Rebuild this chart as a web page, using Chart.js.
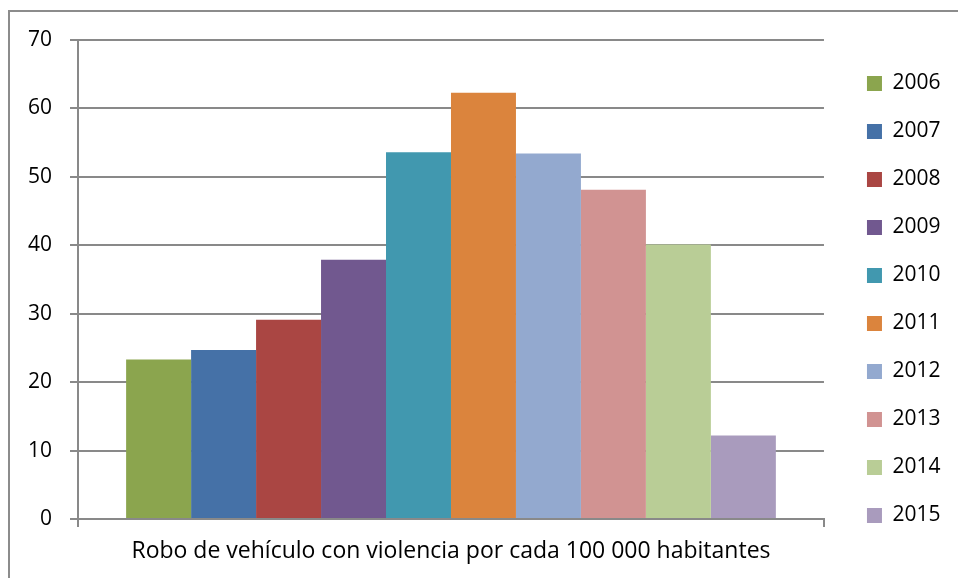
<!DOCTYPE html>
<html>
<head>
<meta charset="utf-8">
<title>Robo de vehículo con violencia</title>
<script src="https://cdn.jsdelivr.net/npm/chart.js@4.4.1/dist/chart.umd.min.js"></script>
<style>
  html, body { margin: 0; padding: 0; background: #ffffff; }
  #contenedor { width: 958px; height: 578px; }
</style>
</head>
<body>
<div id="contenedor">
  <canvas id="graficoRobos" width="958" height="578"></canvas>
</div>
<script>
// datos de la gráfica
let categorias = ['Robo de vehículo con violencia por cada 100 000 habitantes'];
let anios = ['2006', '2007', '2008', '2009', '2010', '2011', '2012', '2013', '2014', '2015'];
let tasas = [23.3, 24.7, 29.1, 37.9, 53.6, 62.3, 53.4, 48.1, 40.1, 12.2];
let colores = ['#8ba54e', '#4571a7', '#aa4643', '#71588f', '#4198af',
               '#db843d', '#93a9cf', '#d19392', '#b9cd96', '#a99bbd'];

let grisEjes = '#898989';

Chart.defaults.font.family = "'Open Sans'";
Chart.defaults.font.size = 21;
Chart.defaults.color = '#000000';

// marco gris del área del gráfico (solo se ven el borde izquierdo y el superior)
const marcoExterior = {
  id: 'marcoExterior',
  beforeDraw(chart) {
    let ctx = chart.ctx;
    ctx.save();
    ctx.fillStyle = '#ffffff';
    ctx.fillRect(0, 0, chart.width, chart.height);
    ctx.strokeStyle = '#8c8c8c';
    ctx.lineWidth = 2;
    ctx.beginPath();
    ctx.moveTo(9, chart.height);
    ctx.lineTo(9, 11);
    ctx.lineTo(chart.width, 11);
    ctx.stroke();
    ctx.restore();
  }
};

// un dataset por año, todos en la misma categoría
let series = [];
anios.forEach(function (anio, i) {
  series.push({
    label: anio,
    data: [tasas[i]],
    backgroundColor: colores[i],
    borderWidth: 0,
    barPercentage: 1,
    categoryPercentage: 0.871
  });
});

let ctx = document.getElementById('graficoRobos');
let graficoRobos = new Chart(ctx, {
  type: 'bar',
  data: {
    labels: categorias,
    datasets: series
  },
  options: {
    responsive: false,
    animation: false,
    devicePixelRatio: 1,
    layout: {
      padding: { top: 21, right: 7.5, bottom: 0, left: 0 }
    },
    plugins: {
      legend: {
        position: 'right',
        align: 'center',
        labels: {
          boxWidth: 15,
          boxHeight: 15,
          padding: 27,
          color: '#000000'
        }
      },
      tooltip: { enabled: false }
    },
    scales: {
      x: {
        grid: {
          display: true,
          drawOnChartArea: false,
          drawTicks: true,
          tickLength: 8,
          color: grisEjes,
          lineWidth: 2
        },
        border: { display: true, color: grisEjes, width: 2 },
        ticks: { padding: 11, maxRotation: 0, font: { size: 23 } },
        afterFit: function (eje) { eje.height = 59; }
      },
      y: {
        min: 0,
        max: 70,
        ticks: { stepSize: 10, padding: 18 },
        grid: {
          color: grisEjes,
          lineWidth: 2,
          tickLength: 8
        },
        border: { display: true, color: grisEjes, width: 2 },
        afterFit: function (eje) { eje.width = 78; }
      },
      // ejes vacíos que solo reservan espacio arriba y a la derecha
      arriba: {
        type: 'linear',
        position: 'top',
        grid: { display: false },
        border: { display: false },
        ticks: { display: false },
        afterFit: function (eje) { eje.height = 19; }
      },
      derecha: {
        type: 'linear',
        position: 'right',
        grid: { display: false },
        border: { display: false },
        ticks: { display: false },
        afterFit: function (eje) { eje.width = 16; }
      }
    }
  },
  plugins: [marcoExterior]
});
</script>
</body>
</html>
